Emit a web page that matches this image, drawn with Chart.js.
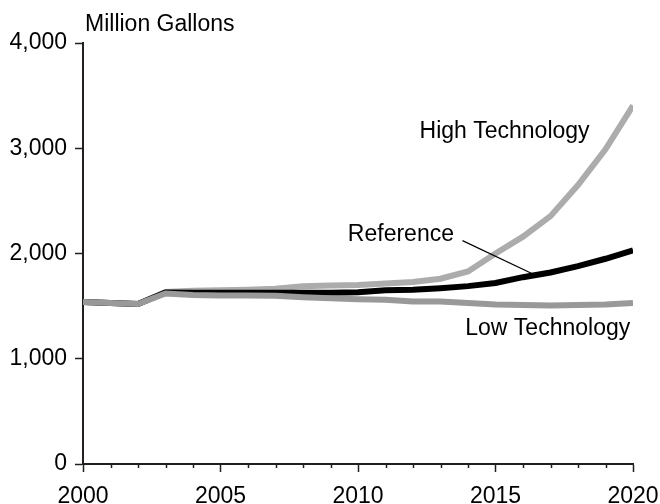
<!DOCTYPE html>
<html>
<head>
<meta charset="utf-8">
<script src="https://cdn.jsdelivr.net/npm/chart.js@4"></script>
<style>
    html, body { margin: 0; padding: 0; background: #fff; }
    #chart { display: block; }
</style>
</head>
<body>
<canvas id="chart" width="660" height="504"></canvas>
<script>
// values (million gallons)
const years = [2000, 2001, 2002, 2003, 2004, 2005, 2006, 2007, 2008, 2009, 2010,
    2011, 2012, 2013, 2014, 2015, 2016, 2017, 2018, 2019, 2020];

const highTech = [1540, 1530, 1520, 1635, 1645, 1650, 1655, 1665, 1690, 1695, 1700,
    1715, 1730, 1760, 1830, 2000, 2160, 2355, 2650, 2990, 3405];

const reference = [1540, 1530, 1520, 1630, 1628, 1628, 1628, 1628, 1626, 1626, 1632,
    1650, 1655, 1670, 1690, 1720, 1775, 1820, 1880, 1950, 2030];

const lowTech = [1540, 1530, 1520, 1620, 1605, 1600, 1600, 1598, 1585, 1575, 1565,
    1560, 1545, 1545, 1530, 1515, 1510, 1505, 1510, 1515, 1530];

const yTickValues = [0, 1000, 2000, 3000, 4000];
const xTickValues = [2000, 2005, 2010, 2015, 2020];

const FONT = "'Liberation Sans', Arial, sans-serif";
const AXIS = '#231f20';

const toPoints = (arr) => arr.map((v, i) => ({ x: years[i], y: v }));

// short ticks for the in-between years
const minorTicks = {
    id: 'minorTicks',
    afterDraw(chart) {
        const { ctx, scales: { x } } = chart;
        ctx.save();
        ctx.strokeStyle = AXIS;
        ctx.lineWidth = 1.5;
        years.forEach(yr => {
            if (yr % 5 === 0) return;
            const px = Math.round(x.getPixelForValue(yr)) + 0.5;
            ctx.beginPath();
            ctx.moveTo(px, x.top);
            ctx.lineTo(px, x.top + 4);
            ctx.stroke();
        });
        ctx.restore();
    }
};

// series names, unit label and the leader line
const labels = {
    id: 'labels',
    afterDraw(chart) {
        const { ctx, scales: { x, y } } = chart;
        ctx.save();
        ctx.fillStyle = '#000';
        ctx.font = `23px ${FONT}`;
        ctx.textBaseline = 'middle';

        ctx.textAlign = 'left';
        ctx.fillText('Million Gallons', 85, 25);

        ctx.textAlign = 'center';
        ctx.fillText('High Technology', x.getPixelForValue(2015.33), y.getPixelForValue(3160));
        ctx.fillText('Reference', x.getPixelForValue(2011.56), y.getPixelForValue(2179));
        ctx.fillText('Low Technology', x.getPixelForValue(2016.9), y.getPixelForValue(1283));

        ctx.strokeStyle = '#000';
        ctx.lineWidth = 1.2;
        ctx.beginPath();
        ctx.moveTo(x.getPixelForValue(2013.8), y.getPixelForValue(2122));
        ctx.lineTo(x.getPixelForValue(2016.36), y.getPixelForValue(1805));
        ctx.stroke();
        ctx.restore();
    }
};

new Chart(document.getElementById('chart'), {
    type: 'line',
    data: {
        datasets: [
            {
                label: 'High Technology',
                data: toPoints(highTech),
                borderColor: '#acacac',
                borderWidth: 6,
                order: 3
            },
            {
                label: 'Reference',
                data: toPoints(reference),
                borderColor: '#000000',
                borderWidth: 6,
                order: 2
            },
            {
                label: 'Low Technology',
                data: toPoints(lowTech),
                borderColor: '#999999',
                borderWidth: 6,
                order: 1
            }
        ]
    },
    options: {
        responsive: false,
        animation: false,
        events: [],
        elements: {
            point: { radius: 0 },
            line: { tension: 0, borderJoinStyle: 'miter', borderCapStyle: 'butt' }
        },
        layout: { padding: { top: 43, right: 27, left: 0, bottom: 0 } },
        plugins: {
            legend: { display: false },
            tooltip: { enabled: false }
        },
        scales: {
            x: {
                type: 'linear',
                min: 2000,
                max: 2020,
                afterBuildTicks: (scale) => {
                    scale.ticks = xTickValues.map(v => ({ value: v }));
                },
                afterFit: (scale) => {
                    scale.height = 40;
                    scale.paddingLeft = 0;
                    scale.paddingRight = 0;
                },
                ticks: {
                    callback: (v) => String(v),
                    font: { family: FONT, size: 23 },
                    color: '#000',
                    padding: 11,
                    maxRotation: 0
                },
                grid: {
                    drawOnChartArea: false,
                    tickLength: 8,
                    tickColor: AXIS,
                    tickWidth: 1.5
                },
                border: { color: AXIS, width: 2 }
            },
            y: {
                min: 0,
                max: 4000,
                afterBuildTicks: (scale) => {
                    scale.ticks = yTickValues.map(v => ({ value: v }));
                },
                afterFit: (scale) => {
                    scale.width = 83;
                    scale.paddingTop = 0;
                    scale.paddingBottom = 0;
                },
                ticks: {
                    callback: (v) => v.toLocaleString('en-US'),
                    font: { family: FONT, size: 23 },
                    color: '#000',
                    padding: 8
                },
                grid: {
                    drawOnChartArea: false,
                    tickLength: 8,
                    tickColor: AXIS,
                    tickWidth: 1.5
                },
                border: { color: AXIS, width: 2 }
            }
        }
    },
    plugins: [minorTicks, labels]
});
</script>
</body>
</html>
